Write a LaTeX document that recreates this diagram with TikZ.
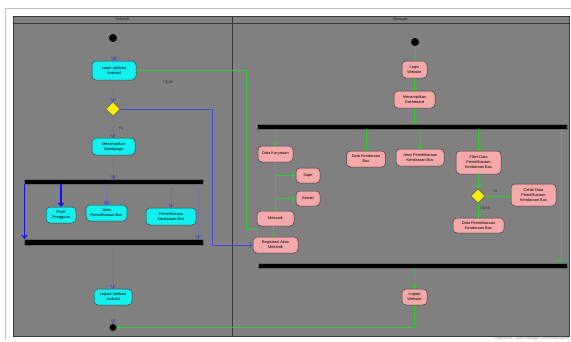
\documentclass[tikz,border=0pt]{standalone}
\usepackage{fontspec}
\setmainfont{Liberation Sans}
\usetikzlibrary{arrows.meta,shapes.geometric,calc}

\definecolor{lanebg}{HTML}{808080}
\definecolor{laneline}{HTML}{3A3A3A}
\definecolor{cyanact}{HTML}{12F0F0}
\definecolor{pinkact}{HTML}{F6A9A9}
\definecolor{flowblue}{HTML}{4646D0}
\definecolor{flowbright}{HTML}{1010F4}
\definecolor{flowgreen}{HTML}{30CC30}
\definecolor{faintblue}{HTML}{7474A4}
\definecolor{faintgreen}{HTML}{769676}

\tikzset{
  act/.style={draw=black!75, line width=0.5pt, rounded corners=4pt, align=center,
    inner sep=0pt, font=\fontsize{3.9}{5}\selectfont, text=black},
  mobact/.style={act, fill=cyanact},
  webact/.style={act, fill=pinkact},
  choice/.style={diamond, draw=black!70, line width=0.4pt, fill=yellow,
    minimum width=14pt, minimum height=14pt, inner sep=0pt},
  syncbar/.style={fill=black, draw=black!60, line width=0.3pt, inner sep=0pt},
  startdot/.style={circle, fill=black, minimum size=8pt, inner sep=0pt},
  % open UML arrow head
  tip/.style={-{Straight Barb[length=3pt,width=5.5pt]}},
  bflow/.style={tip, draw=flowblue, line width=0.55pt},
  bthick/.style={tip, color=flowbright, draw=flowbright, line width=1.1pt},
  bfaint/.style={draw=faintblue, line width=0.4pt},
  bhead/.style={tip, draw=flowblue, line width=0.6pt},
  gflow/.style={tip, color=flowgreen, draw=flowgreen, line width=0.65pt},
  gthin/.style={tip, draw=flowgreen, line width=0.55pt},
  gfaint/.style={draw=faintgreen, line width=0.4pt},
  ghead/.style={tip, draw=flowgreen, line width=0.6pt},
  guard/.style={font=\fontsize{3.6}{4}\selectfont, text=black!85, inner sep=0pt},
  lanetitle/.style={font=\fontsize{3.8}{4}\selectfont, text=black!85, inner sep=0pt}
}

\begin{document}
\begin{tikzpicture}[x=1pt,y=-1pt]
\useasboundingbox (0,0) rectangle (571,341);
\fill[white] (0,0) rectangle (571,341);

% page frame and swimlanes
\draw[black!25, line width=0.5pt] (5,8) -- (5,339);
\draw[black!25, line width=0.5pt] (5,8) -- (571,8);
\fill[lanebg] (13,16) rectangle (569,336);
\draw[laneline, line width=0.8pt] (13,16) rectangle (569,336);
\draw[laneline, line width=0.8pt] (13,23) -- (569,23);
\draw[laneline, line width=0.8pt] (232,16) -- (232,336);
\node[lanetitle] (laneA) at (122.5,19.5) {Mekanik};
\node[lanetitle] (laneB) at (400.5,19.5) {Manager};

% ---------- Mekanik lane ----------
\node[startdot] (s1) at (113,38) {};
\node[mobact, minimum width=44pt, minimum height=19pt] (login) at (114,70.5) {Login Aplikasi\\Android};
\node[choice] (d1) at (113,109) {};
\node[guard] (tidakA) at (168,82) {TIDAK};
\node[guard] (yaA) at (121,128) {YA};
\node[mobact, minimum width=43pt, minimum height=17pt] (home) at (113.5,146.5) {Menampilkan\\Homepage};
\node[syncbar, minimum width=179pt, minimum height=5pt] (fork1) at (113.5,181.5) {};
\node[mobact, minimum width=30pt, minimum height=16pt] (profil) at (61,215) {Profil\\Pengguna};
\node[mobact, minimum width=41pt, minimum height=16pt] (jenis) at (106.5,213) {Jenis\\Pemeliharaan Bus};
\node[mobact, minimum width=50pt, minimum height=17pt] (pkb) at (171,216.5) {Pemeliharaan\\Kendaraan Bus};
\node[syncbar, minimum width=179pt, minimum height=6pt] (join1) at (113.5,242) {};
\node[mobact, minimum width=38pt, minimum height=16pt] (logout) at (113,297) {Logout Aplikasi\\Android};
\node[circle, draw=black!55, line width=1.1pt, fill=black, minimum size=8pt, inner sep=0pt] (final) at (113,327.5) {};

% faint control flows, each with its own arrow head
\draw[bfaint] (s1.south) -- (login.north);
\draw[bhead] ([yshift=4pt]login.north) -- (login.north);
\draw[bfaint] (login.south -| d1.north) -- (d1.north);
\draw[bhead] ([yshift=4pt]d1.north) -- (d1.north);
\draw[bfaint] (d1.south) -- (d1.south |- home.north);
\draw[bhead] ([yshift=4pt]d1.south |- home.north) -- (d1.south |- home.north);
\draw[bfaint] (home.south) -- (home.south |- fork1.north);
\draw[bhead] ([yshift=4pt]home.south |- fork1.north) -- (home.south |- fork1.north);
\draw[bfaint] (jenis.north |- fork1.south) -- (jenis.north);
\draw[bhead] ([yshift=4pt]jenis.north) -- (jenis.north);
\draw[bfaint] (pkb.north |- fork1.south) -- (pkb.north);
\draw[bhead] ([yshift=4pt]pkb.north) -- (pkb.north);
\draw[bfaint] ([xshift=-5pt]fork1.south east) -- ([xshift=-5pt]join1.north east);
\draw[bhead] ([xshift=-5pt,yshift=4pt]join1.north east) -- ([xshift=-5pt]join1.north east);
\draw[bfaint] (join1.south -| logout.north) -- (logout.north);
\draw[bhead] ([yshift=4pt]logout.north) -- (logout.north);
\draw[bfaint] (logout.south) -- (final.north);
\draw[bhead] ([yshift=4pt]final.north) -- (final.north);
% strong flows from the fork
\draw[bthick] ([xshift=0.6pt]fork1.south west) -- ([xshift=0.6pt]join1.north west);
\draw[bthick] (profil.north |- fork1.south) -- (profil.north);

% ---------- Manager lane ----------
\node[startdot] (s2) at (415,42) {};
\node[webact, minimum width=25pt, minimum height=17pt] (loginw) at (414.5,69.5) {Login\\Website};
\node[webact, minimum width=41pt, minimum height=17pt] (dash) at (414.5,99.5) {Menampilkan\\Dashboard};
\node[syncbar, minimum width=310pt, minimum height=5pt] (fork2) at (412,126.5) {};
\node[webact, minimum width=35pt, minimum height=16pt] (karyawan) at (275.5,154) {Data Karyawan};
\node[webact, minimum width=24pt, minimum height=15pt] (supir) at (308,175.5) {Supir};
\node[webact, minimum width=24pt, minimum height=15pt] (kernet) at (308,198.5) {Kernet};
\node[webact, minimum width=37pt, minimum height=15pt] (mekanik) at (275.5,218.5) {Mekanik};
\node[webact, minimum width=45pt, minimum height=16pt] (regis) at (275.5,245) {Registrasi Akun\\Mekanik};
\node[webact, minimum width=39pt, minimum height=16pt] (dkb) at (366,159) {Data Kendaraan\\Bus};
\node[webact, minimum width=48pt, minimum height=17pt] (jpkb) at (420,157.5) {Jenis Pemeliharaan\\Kendaraan Bus};
\node[webact, minimum width=45pt, minimum height=23pt] (filter) at (478.5,162.5) {Filter Data\\Pemeliharaan\\Kendaraan Bus};
\node[choice] (d2) at (478,196) {};
\node[guard] (yaB) at (495,191) {YA};
\node[guard] (tidakB) at (485,208.5) {TIDAK};
\node[webact, minimum width=45pt, minimum height=22pt] (cetak) at (533.5,195) {Cetak Data\\Pemeliharaan\\Kendaraan Bus};
\node[webact, minimum width=51pt, minimum height=15pt] (dpkb) at (478.5,225.5) {Data Pemeliharaan\\Kendaraan Bus};
\node[syncbar, minimum width=309pt, minimum height=5pt] (join2) at (412.5,265.5) {};
\node[webact, minimum width=25pt, minimum height=16pt] (logoutw) at (414.5,297) {Logout\\Website};
\coordinate (rightlink) at (561,200);

\draw[gthin] (s2.south) -- (s2.south |- loginw.north);
\draw[gthin] (loginw.south) -- (loginw.south |- dash.north);
\draw[gthin] (dash.south) -- (dash.south |- fork2.north);
\draw[gflow] (dkb.north |- fork2.south) -- (dkb.north);
\draw[gflow] (filter.north |- fork2.south) -- (filter.north);
\draw[gflow] (rightlink |- fork2.south) -- (rightlink |- join2.north);
\draw[gflow] (supir.west -| karyawan.south) -- (supir.west);
\draw[gflow] (kernet.west -| karyawan.south) -- (kernet.west);
\draw[gflow] ([xshift=-2pt]mekanik.south) -- ([xshift=-2pt]regis.north);
\draw[gflow] (filter.south -| d2.north) -- (d2.north);
\draw[gflow] (d2.east) -- (d2.east -| cetak.west);
\draw[gflow] (d2.south) -- (d2.south |- dpkb.north);
% faint control flows, each with its own arrow head
\draw[gfaint] (jpkb.north |- fork2.south) -- (jpkb.north);
\draw[ghead] ([yshift=4pt]jpkb.north) -- (jpkb.north);
\draw[gfaint] (karyawan.north |- fork2.south) -- (karyawan.north);
\draw[ghead] ([yshift=4pt]karyawan.north) -- (karyawan.north);
\draw[gfaint] (karyawan.south) -- (mekanik.north);
\draw[ghead] ([yshift=4pt]mekanik.north) -- (mekanik.north);
\draw[gfaint] (join2.south -| logoutw.north) -- (logoutw.north);
\draw[ghead] ([yshift=4pt]logoutw.north) -- (logoutw.north);

% flows that cross between the lanes
\draw[bflow] (d1.east) -- ++(92,0) |- (regis.west);
\draw[gthin] ([xshift=5pt]regis.north west) -- ++(0,-7) -- ++(-11,0) |- (login.east);
\draw[gthin] (logoutw.south) |- (final.east);

\node[anchor=east, font=\fontsize{3.4}{4}\selectfont, text=black!45, inner sep=0pt] (credit)
  at (569,339) {Powered By: Visual Paradigm Community Edition};
\end{tikzpicture}
\end{document}
